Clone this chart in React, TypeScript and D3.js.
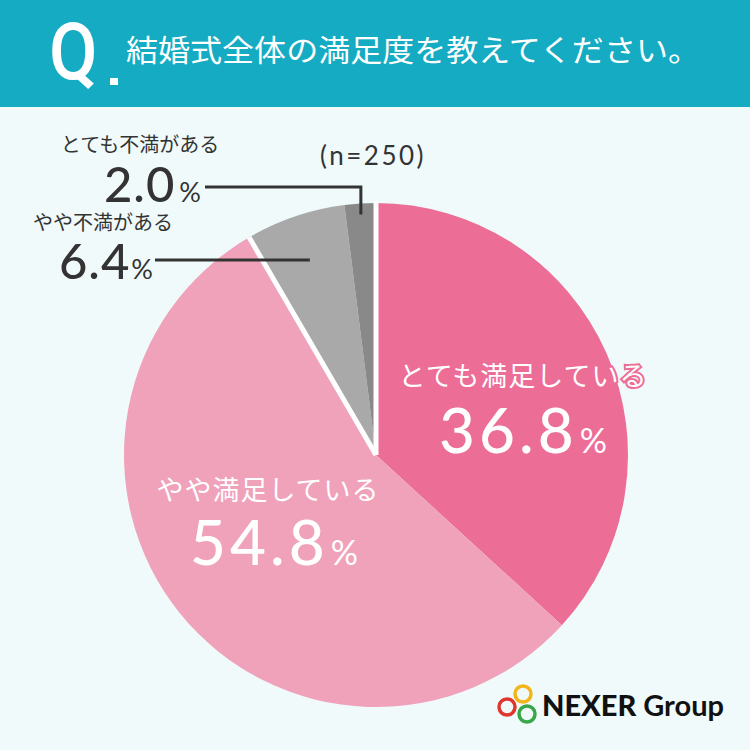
import * as d3 from "d3";

const categories = ["とても満足している", "やや満足している", "やや不満がある", "とても不満がある"];
const values = [36.8, 54.8, 6.4, 2.0];
const sliceColors = ["#ec6d96", "#f0a2ba", "#a9a9a9", "#898989"];
const title = "結婚式全体の満足度を教えてください。";
const sampleNote = "(n=250)";

const W = 750;
const H = 750;
const cx = 376;
const cy = 455;
const R = 252;
const JP = "'Noto Sans CJK JP', 'Noto Sans', sans-serif";
const NUM = "Lato, 'Noto Sans', sans-serif";

export default function App() {
  const pie = d3.pie<number>().sort(null).value((d) => d)(values);
  const arc = d3.arc<d3.PieArcDatum<number>>().innerRadius(0).outerRadius(R);

  // point on the slice's middle angle at a given radius
  const at = (i: number, r: number): [number, number] => {
    const a = (pie[i].startAngle + pie[i].endAngle) / 2;
    return [cx + r * Math.sin(a), cy - r * Math.cos(a)];
  };
  const edge = (a: number) => [cx + R * Math.sin(a), cy - R * Math.cos(a)];

  const p2 = at(3, 241);
  const p3 = at(2, 206);
  const gEdge = edge(pie[2].startAngle);
  const topEdge = edge(0);

  const fmt = (v: number) => v.toFixed(1);

  return (
    <svg width={W} height={H} style={{ display: "block", position: "absolute", left: 0, top: 0 }}>
      <rect width={W} height={H} fill="#f0fafb" />
      <rect width={W} height={107} fill="#15abc2" />
      <text x={49} y={79} fill="#fff" fontFamily="Roboto, sans-serif" fontWeight={500} fontSize={80} transform="translate(49,0) scale(0.88,1) translate(-49,0)">Q</text>
      <rect x={110} y={78} width={8} height={7} fill="#fff" />
      <text x={126} y={61} fill="#fff" fontFamily={JP} fontSize={30} textLength={574} lengthAdjust="spacingAndGlyphs">{title}</text>

      <g>
        {pie.map((d, i) => (
          <path key={categories[i]} d={arc(d) || ""} transform={`translate(${cx},${cy})`} fill={sliceColors[i]} />
        ))}
        <line x1={cx} y1={cy} x2={topEdge[0]} y2={topEdge[1] - 2} stroke="#fff" strokeWidth={5} />
        <line x1={cx} y1={cy} x2={gEdge[0]} y2={gEdge[1]} stroke="#fff" strokeWidth={5} />
      </g>

      {/* leader lines */}
      <polyline points={`205,187 ${p2[0]},187 ${p2[0]},${p2[1]}`} fill="none" stroke="#333" strokeWidth={3} />
      <line x1={155} y1={p3[1]} x2={p3[0]} y2={p3[1]} stroke="#333" strokeWidth={3} />

      <text x={320} y={165} fill="#333" fontFamily={NUM} fontSize={26} letterSpacing={2.5}>{sampleNote}</text>

      <text x={140} y={152} textAnchor="middle" fill="#333" fontFamily={JP} fontSize={20}>{categories[3]}</text>
      <text x={201} y={202} textAnchor="end" fill="#333" fontFamily={NUM}>
        <tspan fontSize={49} fontWeight={500} letterSpacing={1}>{fmt(values[3])}</tspan>
        <tspan fontSize={27} dx={4}>%</tspan>
      </text>

      <text x={103} y={230} textAnchor="middle" fill="#333" fontFamily={JP} fontSize={20}>{categories[2]}</text>
      <text x={153} y={279} textAnchor="end" fill="#333" fontFamily={NUM}>
        <tspan fontSize={49} fontWeight={500} letterSpacing={1}>{fmt(values[2])}</tspan>
        <tspan fontSize={27} dx={1}>%</tspan>
      </text>

      <text x={523} y={386} textAnchor="middle" fill="#fff" stroke="#ec6d96" strokeWidth={4} paintOrder="stroke" fontFamily={JP} fontSize={27} letterSpacing={1}>{categories[0]}</text>
      <text x={523} y={453} textAnchor="middle" fill="#fff" fontFamily={NUM}>
        <tspan fontSize={62} fontWeight={500} letterSpacing={4}>{fmt(values[0])}</tspan>
        <tspan fontSize={34} dx={2}>%</tspan>
      </text>

      <text x={268} y={500} textAnchor="middle" fill="#fff" fontFamily={JP} fontSize={27} letterSpacing={1}>{categories[1]}</text>
      <text x={274} y={565} textAnchor="middle" fill="#fff" fontFamily={NUM}>
        <tspan fontSize={62} fontWeight={500} letterSpacing={4}>{fmt(values[1])}</tspan>
        <tspan fontSize={34} dx={2}>%</tspan>
      </text>

      {/* logo */}
      <g fill="none" strokeWidth={3.5}>
        <circle cx={523} cy={694} r={8} stroke="#f2b61c" />
        <circle cx={507} cy={707} r={8} stroke="#e0362e" />
        <circle cx={527} cy={714} r={8} stroke="#3aa648" />
      </g>
      <text x={542} y={716} fill="#111" fontFamily="Lato, sans-serif" fontSize={29}>
        <tspan fontWeight={900}>NEXER</tspan>
        <tspan fontWeight={700} dx={7}>Group</tspan>
      </text>
    </svg>
  );
}
